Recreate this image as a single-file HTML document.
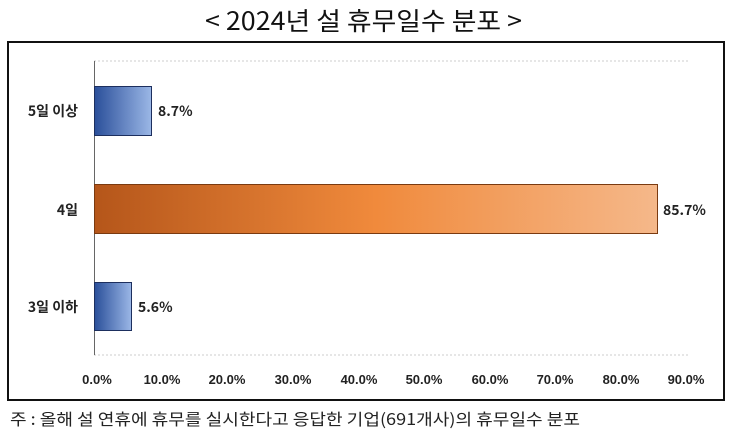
<!DOCTYPE html>
<html><head><meta charset="utf-8"><style>
body{margin:0;width:750px;height:439px;background:#fff;overflow:hidden;font-family:"Liberation Sans","Noto Sans CJK KR",sans-serif}
</style></head><body>
<svg width="750" height="439" xmlns="http://www.w3.org/2000/svg" style="position:absolute;left:0;top:0">
<defs>
<linearGradient id="b" x1="0" x2="1"><stop offset="0" stop-color="#2a4f9a"/><stop offset="1" stop-color="#9bb7e6"/></linearGradient>
<linearGradient id="o" x1="0" x2="1"><stop offset="0" stop-color="#b5561a"/><stop offset="0.5" stop-color="#f08a3c"/><stop offset="1" stop-color="#f5b88a"/></linearGradient>
</defs>
<text x="205" y="30" textLength="317" lengthAdjust="spacingAndGlyphs" font-size="25" font-family="'Noto Sans CJK KR',sans-serif" fill="#111">&lt; 2024년 설 휴무일수 분포 &gt;</text>
<rect x="8" y="42" width="716" height="358" fill="none" stroke="#111" stroke-width="2"/>
<line x1="94" y1="61" x2="690" y2="61" stroke="#ccc" stroke-dasharray="2,2"/>
<line x1="94" y1="355" x2="690" y2="355" stroke="#ccc" stroke-dasharray="2,2"/>
<line x1="94.5" y1="61" x2="94.5" y2="355" stroke="#666"/>
<rect x="94.5" y="86.5" width="57" height="49" fill="url(#b)" stroke="#1d2f5e"/>
<rect x="94.5" y="184.5" width="563" height="49" fill="url(#o)" stroke="#7a3a10"/>
<rect x="94.5" y="282.5" width="37" height="48" fill="url(#b)" stroke="#1d2f5e"/>
<g font-size="14" font-weight="bold" fill="#222" font-family="'Noto Sans CJK KR',sans-serif">
<text x="78" y="116" text-anchor="end">5일 이상</text>
<text x="78" y="215" text-anchor="end">4일</text>
<text x="78" y="312" text-anchor="end">3일 이하</text>
<text x="158" y="116">8.7%</text>
<text x="663" y="215">85.7%</text>
<text x="138" y="312">5.6%</text>
</g>
<g font-size="13" font-weight="bold" fill="#222" text-anchor="middle">
<text x="97" y="384">0.0%</text><text x="162" y="384">10.0%</text><text x="227" y="384">20.0%</text><text x="293" y="384">30.0%</text><text x="359" y="384">40.0%</text><text x="424" y="384">50.0%</text><text x="490" y="384">60.0%</text><text x="555" y="384">70.0%</text><text x="621" y="384">80.0%</text><text x="686" y="384">90.0%</text>
</g>
<text x="10" y="425" textLength="570" lengthAdjust="spacingAndGlyphs" font-size="16" fill="#222" font-family="'Noto Sans CJK KR',sans-serif">주 : 올해 설 연휴에 휴무를 실시한다고 응답한 기업(691개사)의 휴무일수 분포</text>
</svg>
</body></html>
